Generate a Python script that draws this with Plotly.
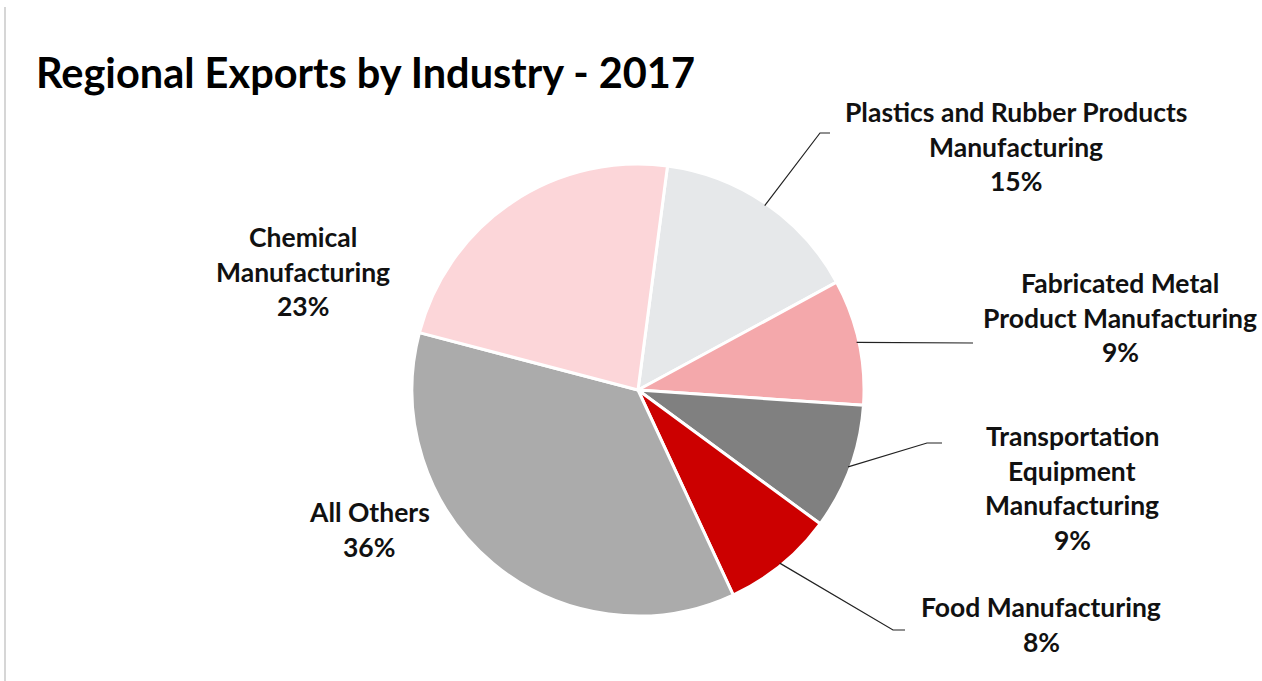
import math
import plotly.graph_objects as go

# ---- data ----
industries = [
    "Plastics and Rubber Products Manufacturing",
    "Fabricated Metal Product Manufacturing",
    "Transportation Equipment Manufacturing",
    "Food Manufacturing",
    "All Others",
    "Chemical Manufacturing",
]
shares = [15, 9, 9, 8, 36, 23]
label_lines = [
    ["Plastics and Rubber Products", "Manufacturing"],
    ["Fabricated Metal", "Product Manufacturing"],
    ["Transportation", "Equipment", "Manufacturing"],
    ["Food Manufacturing"],
    ["All Others"],
    ["Chemical", "Manufacturing"],
]
title_text = "Regional Exports by Industry - 2017"

# ---- styles / layout ----
colors = ["#E6E8EA", "#F4A8AB", "#808080", "#CC0000", "#ABABAB", "#FCD6D9"]
W, H = 1262, 681
cx, cy, R = 638, 390, 226
rotation = 7.5
FONT = "Lato"
fs = 26.5
line_gap = 34.5
# label anchor: (center x, first-line y) in px
label_pos = [(1016, 112), (1120, 283), (1072, 436), (1041, 607), (369, 512), (303, 237)]
# leader lines: list of extra points after the slice-edge start (px); None = no line
leaders = [
    [(820, 133), (830, 133)],
    [(973, 343)],
    [(927, 443), (942, 443)],
    [(893, 630), (905, 630)],
    None,
    None,
]


def px(x):
    return x / W


def py(y):
    return 1 - y / H


fig = go.Figure(
    go.Pie(
        values=shares,
        labels=industries,
        sort=False,
        direction="clockwise",
        rotation=rotation,
        textinfo="none",
        hoverinfo="label+percent",
        marker=dict(colors=colors, line=dict(color="white", width=3)),
        domain=dict(x=[px(cx - R), px(cx + R)], y=[py(cy + R), py(cy - R)]),
        showlegend=False,
    )
)

annotations = [
    dict(
        text=f"<b>{title_text}</b>",
        x=px(34), y=py(72), xref="paper", yref="paper",
        xanchor="left", yanchor="middle", showarrow=False,
        font=dict(family=FONT, size=41.5, color="#000000"),
    )
]
shapes = []
total = sum(shares)
cum = 0
for i, v in enumerate(shares):
    pct = f"{v / total * 100:.0f}%"
    lines = label_lines[i] + [pct]
    lx, ly = label_pos[i]
    for j, t in enumerate(lines):
        annotations.append(
            dict(
                text=f"<b>{t}</b>",
                x=px(lx), y=py(ly + j * line_gap), xref="paper", yref="paper",
                xanchor="center", yanchor="middle", showarrow=False,
                font=dict(family=FONT, size=fs, color="#111111"),
            )
        )
    mid = math.radians(rotation + 360 * (cum + v / 2) / total)
    cum += v
    if leaders[i]:
        sx = cx + R * 0.99 * math.sin(mid)
        sy = cy - R * 0.99 * math.cos(mid)
        pts = [(sx, sy)] + leaders[i]
        path = "M " + " L ".join(f"{px(a):.5f},{py(b):.5f}" for a, b in pts)
        shapes.append(
            dict(type="path", path=path, xref="paper", yref="paper",
                 line=dict(color="#222222", width=1.2))
        )

# faint chart frame at left edge
shapes.append(dict(type="line", xref="paper", yref="paper",
                   x0=px(5), x1=px(5), y0=py(7), y1=py(681),
                   line=dict(color="#C8C8C8", width=1.5)))

fig.update_layout(
    width=W, height=H,
    margin=dict(l=0, r=0, t=0, b=0),
    paper_bgcolor="white", plot_bgcolor="white",
    annotations=annotations, shapes=shapes,
)
fig.write_html("out.html")
